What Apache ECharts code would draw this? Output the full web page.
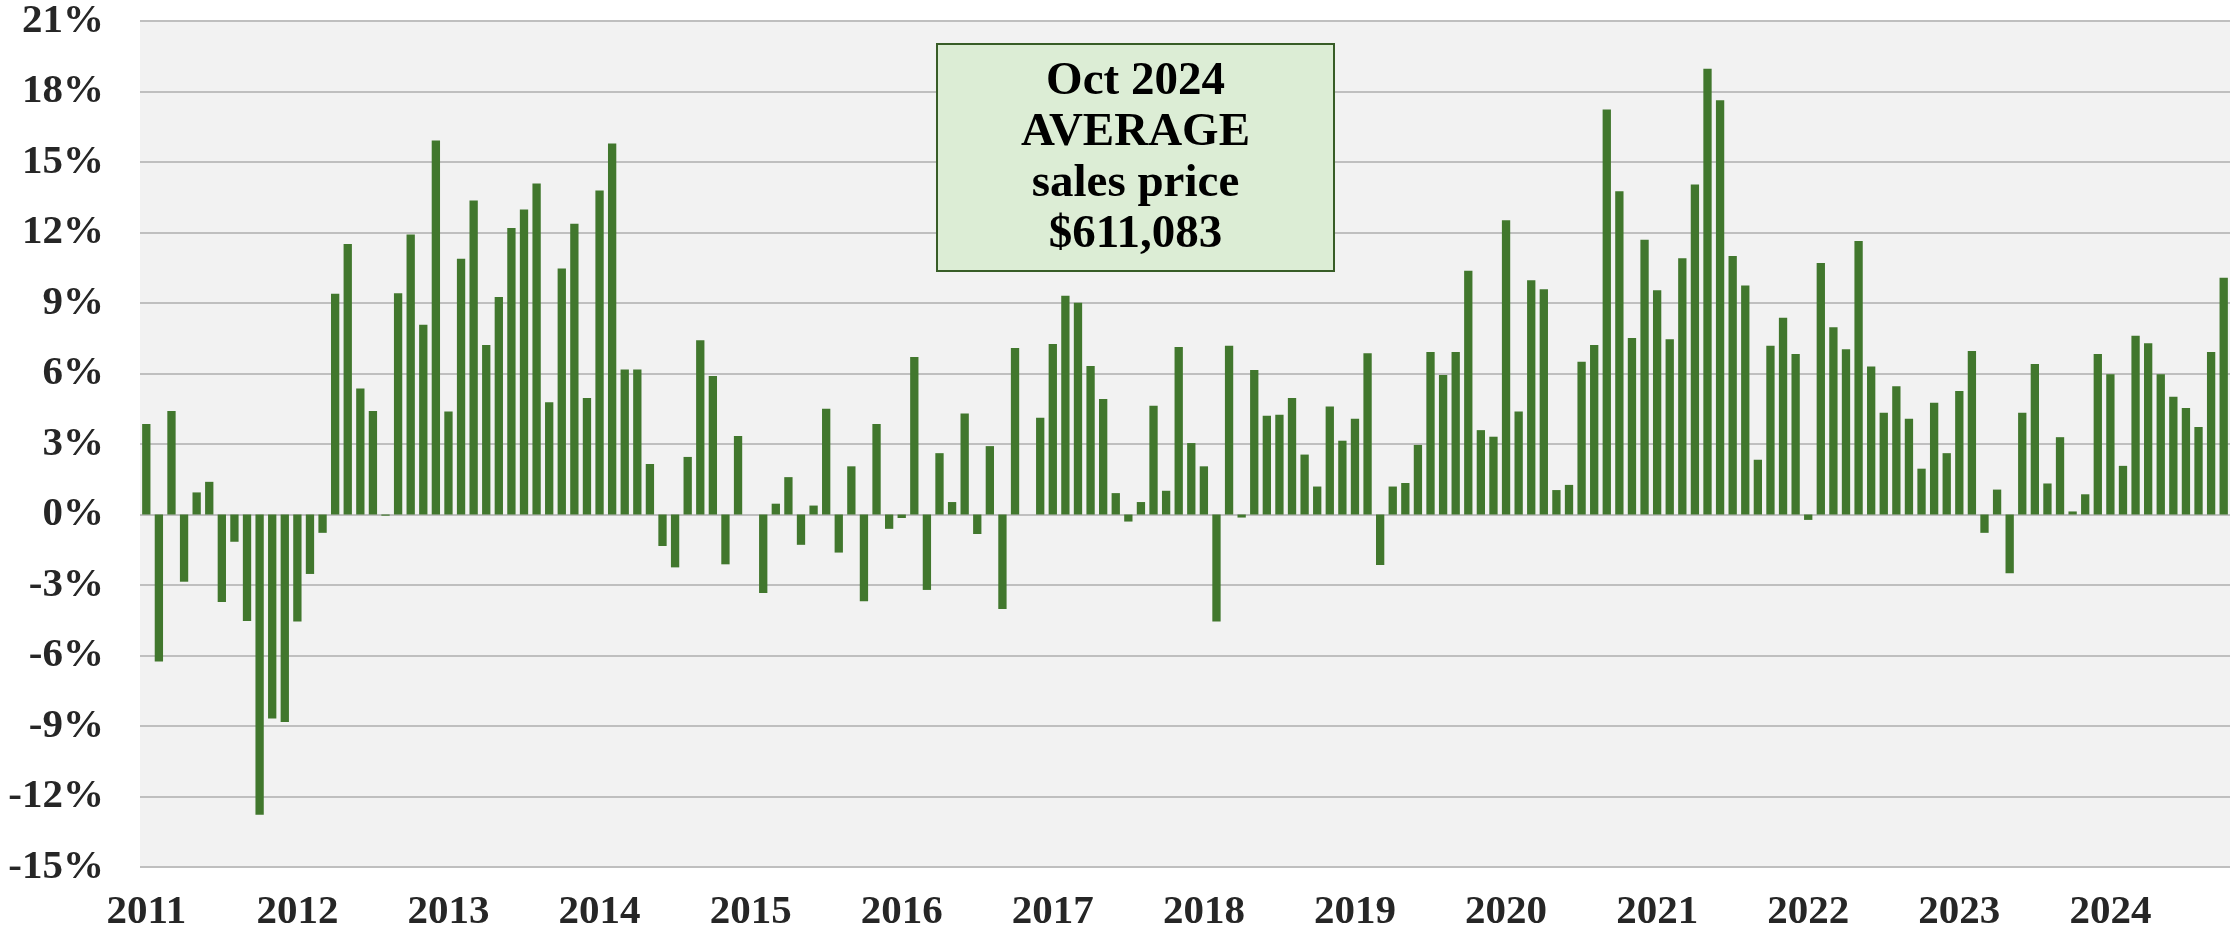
<!DOCTYPE html>
<html>
<head>
<meta charset="utf-8">
<title>Average sales price, year-over-year change</title>
<script src="https://cdn.jsdelivr.net/npm/echarts@6/dist/echarts.min.js"></script>
<style>
  html, body { margin: 0; padding: 0; background: #ffffff; }
  #chart { width: 2233px; height: 933px; }
</style>
</head>
<body>
<div id="chart"></div>
<script>
// Year-over-year % change of the monthly average sales price, Jan 2011 - Oct 2024
const y2011 = [3.85, -6.25, 4.40, -2.86, 0.94, 1.39, -3.72, -1.16, -4.53, -12.78, -8.68, -8.83];
const y2012 = [-4.55, -2.53, -0.78, 9.39, 11.51, 5.36, 4.40, -0.05, 9.41, 11.92, 8.07, 15.91];
const y2013 = [4.38, 10.88, 13.36, 7.21, 9.26, 12.19, 12.98, 14.09, 4.78, 10.47, 12.37, 4.96];
const y2014 = [13.79, 15.79, 6.17, 6.17, 2.15, -1.34, -2.25, 2.45, 7.41, 5.89, -2.12, 3.34];
const y2015 = [0, -3.34, 0.46, 1.59, -1.29, 0.38, 4.50, -1.62, 2.05, -3.69, 3.85, -0.61];
const y2016 = [-0.15, 6.70, -3.21, 2.61, 0.53, 4.30, -0.83, 2.91, -4.02, 7.08, 0, 4.12];
const y2017 = [7.26, 9.31, 9.01, 6.32, 4.91, 0.91, -0.30, 0.53, 4.63, 1.01, 7.13, 3.04];
const y2018 = [2.05, -4.55, 7.18, -0.13, 6.15, 4.20, 4.25, 4.96, 2.55, 1.19, 4.60, 3.14];
const y2019 = [4.07, 6.86, -2.15, 1.19, 1.34, 2.96, 6.91, 5.94, 6.91, 10.37, 3.59, 3.31];
const y2020 = [12.52, 4.38, 9.97, 9.59, 1.04, 1.26, 6.50, 7.21, 17.23, 13.76, 7.51, 11.69];
const y2021 = [9.54, 7.46, 10.90, 14.04, 18.97, 17.63, 11.00, 9.74, 2.33, 7.18, 8.37, 6.83];
const y2022 = [-0.23, 10.70, 7.97, 7.03, 11.64, 6.30, 4.33, 5.46, 4.07, 1.95, 4.76, 2.61];
const y2023 = [5.26, 6.96, -0.78, 1.06, -2.50, 4.33, 6.40, 1.32, 3.29, 0.13, 0.86, 6.83];
const y2024 = [5.97, 2.07, 7.61, 7.29, 5.97, 5.01, 4.53, 3.72, 6.91, 10.07];

const years = ['2011', '2012', '2013', '2014', '2015', '2016', '2017', '2018', '2019', '2020', '2021', '2022', '2023', '2024'];
const monthNames = ['Jan', 'Feb', 'Mar', 'Apr', 'May', 'Jun', 'Jul', 'Aug', 'Sep', 'Oct', 'Nov', 'Dec'];
const yearlySeries = [y2011, y2012, y2013, y2014, y2015, y2016, y2017, y2018, y2019, y2020, y2021, y2022, y2023, y2024];

const boxLines = ['Oct 2024', 'AVERAGE', 'sales price', '$611,083'];

// One category per month; only January shows its year under the axis
const categories = [];
const values = [];
yearlySeries.forEach((arr, yi) => {
  arr.forEach((v, mi) => {
    categories.push(monthNames[mi] + ' ' + years[yi]);
    values.push(v);
  });
});

const FONT = '"Liberation Serif", "Times New Roman", serif';

const chart = echarts.init(document.getElementById('chart'), null, { renderer: 'canvas' });
chart.setOption({
  animation: false,
  backgroundColor: '#ffffff',
  grid: {
    left: 140, right: 3, top: 21, bottom: 65,
    show: true, backgroundColor: '#f2f2f2', borderWidth: 0
  },
  xAxis: {
    type: 'category',
    data: categories,
    boundaryGap: true,
    axisLine: { show: false },
    axisTick: { show: false },
    axisLabel: {
      interval: 11,
      margin: 25,
      fontFamily: FONT,
      fontWeight: 'bold',
      fontSize: 41,
      color: '#262626',
      formatter: (val) => val.split(' ')[1]
    },
    splitLine: { show: false }
  },
  yAxis: {
    type: 'value',
    min: -15, max: 21, interval: 3,
    axisLine: { show: false },
    axisTick: { show: false },
    axisLabel: {
      margin: 36,
      fontFamily: FONT,
      fontWeight: 'bold',
      fontSize: 41,
      color: '#262626',
      formatter: (v) => v + '%'
    },
    splitLine: { show: true, lineStyle: { color: '#bfbfbf', width: 2 } }
  },
  series: [{
    type: 'bar',
    data: values,
    barWidth: '66%',
    itemStyle: { color: '#41772d' }
  }],
  graphic: [
    {
      type: 'rect',
      shape: { x: 937, y: 44, width: 397, height: 227 },
      style: { fill: '#dcedd5', stroke: '#385d27', lineWidth: 2 },
      z: 10
    },
    {
      type: 'text',
      x: 1135.5,
      y: 158,
      style: {
        text: boxLines.join('\n'),
        font: 'bold 47px ' + FONT,
        align: 'center',
        verticalAlign: 'middle',
        lineHeight: 51,
        fill: '#000000'
      },
      z: 11
    }
  ]
});
</script>
</body>
</html>
